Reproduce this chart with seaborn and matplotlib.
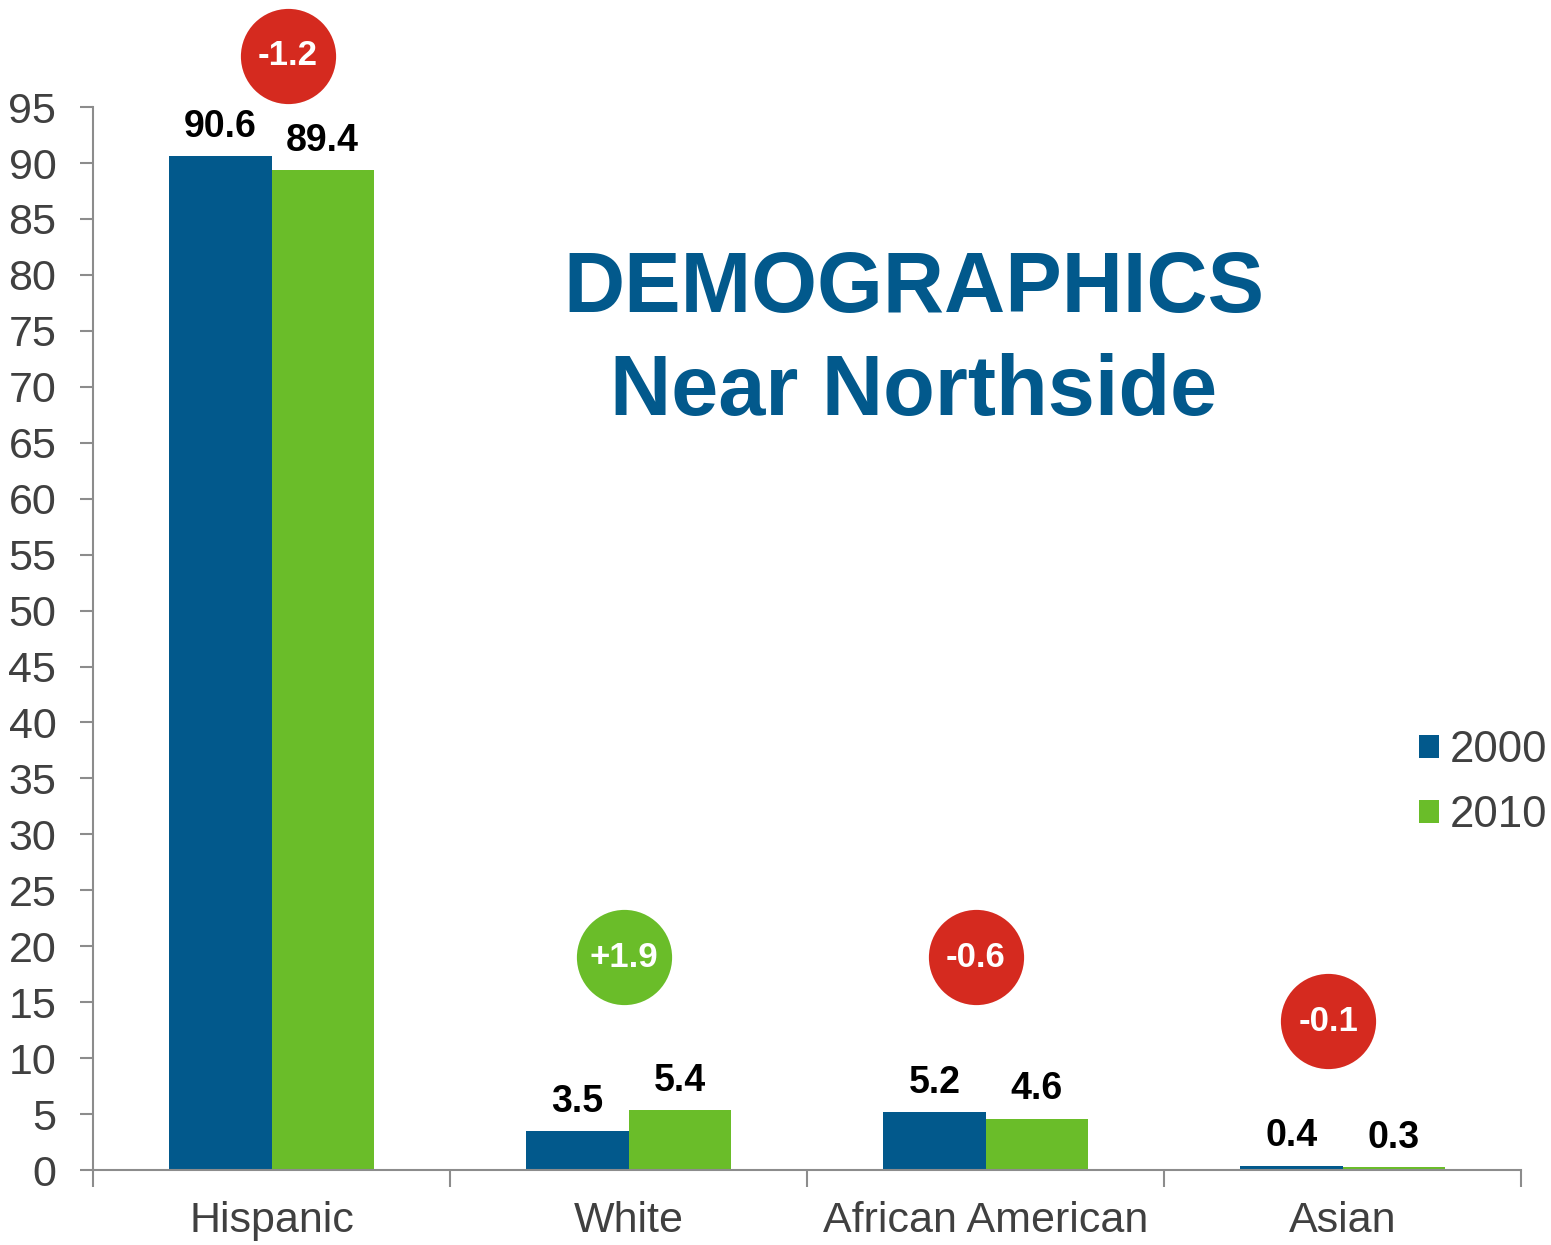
import pandas as pd
import seaborn as sns
import matplotlib.pyplot as plt

# data
groups = ['Hispanic', 'White', 'African American', 'Asian']
pct_2000 = [90.6, 3.5, 5.2, 0.4]
pct_2010 = [89.4, 5.4, 4.6, 0.3]
changes = ['-1.2', '+1.9', '-0.6', '-0.1']
years = ['2000', '2010']

BLUE = '#02598c'
GREEN = '#6abd29'
RED = '#d52a1f'
GREY = '#404040'

sns.set_theme(style='white')
plt.rcParams['font.family'] = ['Liberation Sans', 'DejaVu Sans']

df = pd.DataFrame({
    'group': groups * 2,
    'year': [years[0]] * 4 + [years[1]] * 4,
    'value': pct_2000 + pct_2010,
})

fig = plt.figure(figsize=(15.51, 12.45), dpi=100)
ax = fig.add_axes([0.06, 0.0602, 0.9207, 0.8538])

sns.barplot(data=df, x='group', y='value', hue='year', order=groups,
            hue_order=years, palette=[BLUE, GREEN], width=0.572,
            saturation=1, errorbar=None, linewidth=0, ax=ax)

ax.set_ylim(0, 95)
ax.set_xlim(-0.5, 3.5)
ax.set_yticks(range(0, 96, 5))
ax.set_xlabel('')
ax.set_ylabel('')

# axis look
for side in ['top', 'right']:
    ax.spines[side].set_visible(False)
for side in ['left', 'bottom']:
    ax.spines[side].set_color('#8c8c8c')
    ax.spines[side].set_linewidth(1.5)
ax.tick_params(axis='y', which='major', left=True, length=9.5, width=1.5,
               color='#8c8c8c', labelsize=31, labelcolor=GREY, pad=17)
ax.tick_params(axis='x', which='major', bottom=False, labelsize=31,
               labelcolor=GREY, pad=16)
ax.set_xticks([-0.5, 0.5, 1.5, 2.5, 3.5], minor=True)
ax.tick_params(axis='x', which='minor', bottom=True, length=12, width=1.5,
               color='#8c8c8c')

# value labels above bars
for cont in ax.containers:
    ax.bar_label(cont, fmt='%.1f', padding=8, fontsize=27,
                 fontweight='bold', color='black')

# change bubbles
bubble_pos = [(0.046, 99.6), (0.987, 19.0), (1.973, 19.0), (2.96, 13.3)]
for (bx, by), txt in zip(bubble_pos, changes):
    col = GREEN if txt.startswith('+') else RED
    ax.scatter([bx], [by], s=4700, color=col, clip_on=False, zorder=5,
               linewidths=0)
    ax.text(bx, by, txt, ha='center', va='center', fontsize=25,
            fontweight='bold', color='white', zorder=6, clip_on=False)

# title inside the plot
fig.text(0.589, 0.767, 'DEMOGRAPHICS', ha='center', va='center',
         fontsize=61, fontweight='bold', color=BLUE)
fig.text(0.589, 0.684, 'Near Northside', ha='center', va='center',
         fontsize=61, fontweight='bold', color=BLUE)

leg = ax.legend(loc='center left', bbox_to_anchor=(0.915, 0.371),
                bbox_transform=fig.transFigure, frameon=False, fontsize=31.5,
                handlelength=0.45, handleheight=0.45, handletextpad=0.25,
                labelspacing=0.55, borderaxespad=0, borderpad=0)
for t in leg.get_texts():
    t.set_color(GREY)

plt.savefig('out.png', dpi=100, facecolor='white')
